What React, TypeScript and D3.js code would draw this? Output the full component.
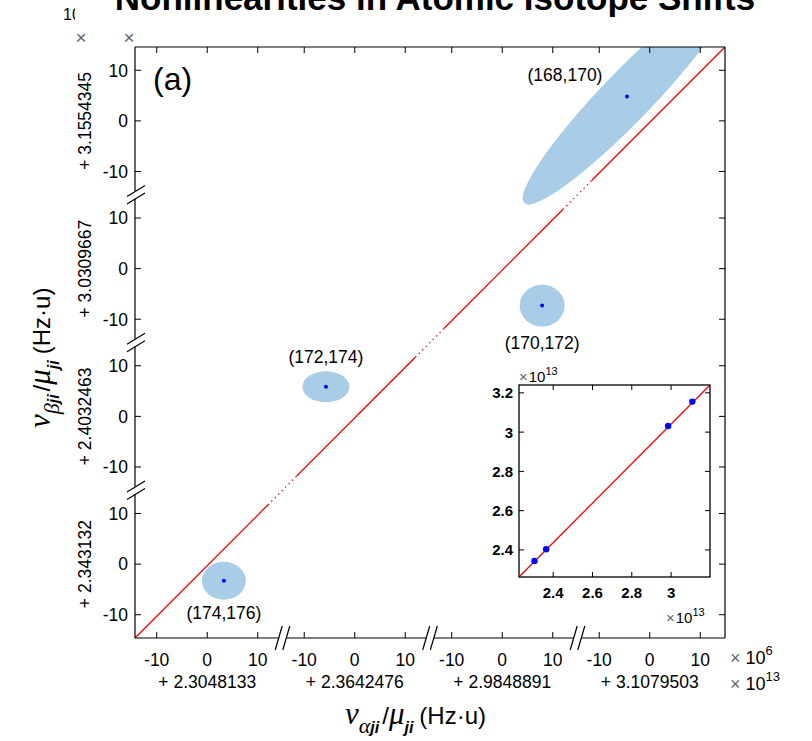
import * as d3 from "d3";

// axis offsets (x 10^13) for the four broken segments, bottom->top / left->right
const xOffsets = ["+ 2.3048133", "+ 2.3642476", "+ 2.9848891", "+ 3.1079503"];
const yOffsets = ["+ 2.343132", "+ 2.4032463", "+ 3.0309667", "+ 3.1554345"];
const localTicks = [-10, 0, 10];

// isotope pairs, local coordinates in units of 10^6 Hz·u
const pairLabels = ["(174,176)", "(172,174)", "(170,172)", "(168,170)"];
const pointX = [3.3, -5.7, 7.9, -4.5];
const pointY = [-3.3, 5.85, -7.3, 4.8];
const semiX = [4.35, 4.65, 4.45, 29.3];
const semiY = [3.75, 3.05, 4.15, 4.95];
const tilt = [0, 0, 0, -46];

// fitted line in local units: s = t + fitOffset, solid part inside each segment
const fitOffset = -0.3;
const solidFrom = [-14.3, -11.5, -11.5, -11.5];
const solidTo = [12, 12, 12, 14.9];

// inset (x 10^13)
const insetX = [2.3048133, 2.3642476, 2.9848891, 3.1079503];
const insetY = [2.343132, 2.4032463, 3.0309667, 3.1554345];
const insetXTicks = [2.4, 2.6, 2.8, 3];
const insetYTicks = [2.4, 2.6, 2.8, 3, 3.2];
const fitX = [2.226, 3.198];
const fitY = [2.262, 3.24];

const L = 135, R = 725, T = 47, B = 638;
const Px = (R - L) / 4;
const Py = (B - T) / 4;
const sans = "Liberation Sans, Arial, sans-serif";
const serif = "Liberation Serif, Times New Roman, serif";

const xPanel = (i: number) =>
  d3.scaleLinear().domain([-14.3, 14.9]).range([L + i * Px, L + (i + 1) * Px]);
const yPanel = (i: number) =>
  d3.scaleLinear().domain([-14.6, 14.6]).range([B - i * Py, B - (i + 1) * Py]);

const insL = 519, insR = 710, insT = 385, insB = 577;
const ix = d3.scaleLinear().domain([2.226, 3.198]).range([insL, insR]);
const iy = d3.scaleLinear().domain([2.262, 3.24]).range([insB, insT]);

const labelShift = [
  [0, 38],
  [0, -24],
  [0, 43],
  [-62, -16],
];

export default function App() {
  const panels = [0, 1, 2, 3];
  const line = d3.line<[number, number]>();

  const solidSegs = panels.map((i) =>
    line([
      [xPanel(i)(solidFrom[i]), yPanel(i)(solidFrom[i] + fitOffset)],
      [xPanel(i)(solidTo[i]), yPanel(i)(solidTo[i] + fitOffset)],
    ])
  );
  const dottedSegs = [0, 1, 2].map((i) =>
    line([
      [xPanel(i)(solidTo[i]), yPanel(i)(solidTo[i] + fitOffset)],
      [xPanel(i + 1)(solidFrom[i + 1]), yPanel(i + 1)(solidFrom[i + 1] + fitOffset)],
    ])
  );

  const xBreaks = [1, 2, 3].map((i) => L + i * Px);
  const yBreaks = [1, 2, 3].map((i) => B - i * Py);
  const gap = 3.8;
  const bottomStops = [L, ...xBreaks.flatMap((b) => [b - gap, b + gap]), R];
  const leftStops = [B, ...yBreaks.flatMap((b) => [b + gap, b - gap]), T];

  return (
    <svg width={812} height={741} style={{ display: "block", position: "absolute", left: 0, top: 0 }}>
      <defs>
        <clipPath id="plotClip">
          <rect x={L} y={T} width={R - L} height={B - T} />
        </clipPath>
      </defs>
      <rect width={812} height={741} fill="white" />

      {/* partially hidden exponent behind title */}
      <text x={63} y={20} fontFamily={sans} fontSize={16}>10</text>
      <rect x={75} y={0} width={737} height={24} fill="white" />
      <text x={435} y={10} textAnchor="middle" fontFamily={sans} fontWeight="bold" fontSize={35}>
        Nonlinearities in Atomic Isotope Shifts
      </text>
      <text x={81} y={44} textAnchor="middle" fontFamily={sans} fontSize={19} fill="#666">×</text>
      <text x={129} y={44} textAnchor="middle" fontFamily={sans} fontSize={19} fill="#666">×</text>

      {/* ellipses */}
      <g clipPath="url(#plotClip)">
        {panels.map((i) => {
          const cx = xPanel(i)(pointX[i]);
          const cy = yPanel(i)(pointY[i]);
          const rx = xPanel(i)(semiX[i]) - xPanel(i)(0);
          const ry = yPanel(i)(0) - yPanel(i)(semiY[i]);
          return (
            <ellipse key={i} cx={cx} cy={cy} rx={rx} ry={ry} fill="#a9cde7"
              transform={`rotate(${tilt[i]},${cx},${cy})`} />
          );
        })}
      </g>

      {/* fit line */}
      {solidSegs.map((d, i) => (
        <path key={"s" + i} d={d || ""} stroke="#ff0000" strokeWidth={1.3} fill="none" />
      ))}
      {dottedSegs.map((d, i) => (
        <path key={"d" + i} d={d || ""} stroke="#ff0000" strokeWidth={1.3} fill="none" strokeDasharray="1.3 3.6" />
      ))}

      {/* centre points and labels */}
      {panels.map((i) => {
        const cx = xPanel(i)(pointX[i]);
        const cy = yPanel(i)(pointY[i]);
        return (
          <g key={"p" + i}>
            <circle cx={cx} cy={cy} r={2} fill="#0000ff" />
            <text x={cx + labelShift[i][0]} y={cy + labelShift[i][1]} textAnchor="middle"
              fontFamily={sans} fontSize={17.5}>{pairLabels[i]}</text>
          </g>
        );
      })}

      <text x={153} y={90} fontFamily={sans} fontSize={32}>(a)</text>

      {/* frame */}
      <line x1={L} y1={T} x2={R} y2={T} stroke="black" strokeWidth={1.2} />
      <line x1={R} y1={T} x2={R} y2={B} stroke="black" strokeWidth={1.2} />
      {d3.range(0, bottomStops.length, 2).map((k) => (
        <line key={"bx" + k} x1={bottomStops[k]} y1={B} x2={bottomStops[k + 1]} y2={B} stroke="black" strokeWidth={1.2} />
      ))}
      {d3.range(0, leftStops.length, 2).map((k) => (
        <line key={"ly" + k} x1={L} y1={leftStops[k]} x2={L} y2={leftStops[k + 1]} stroke="black" strokeWidth={1.2} />
      ))}
      {xBreaks.map((b, k) => (
        <g key={"xb" + k} stroke="black" strokeWidth={1.2}>
          <line x1={b - gap - 3.5} y1={B + 12} x2={b - gap + 3.5} y2={B - 12} />
          <line x1={b + gap - 3.5} y1={B + 12} x2={b + gap + 3.5} y2={B - 12} />
        </g>
      ))}
      {yBreaks.map((b, k) => (
        <g key={"yb" + k} stroke="black" strokeWidth={1.2}>
          <line x1={L - 8} y1={b + gap + 5.5} x2={L + 10} y2={b + gap - 5.5} />
          <line x1={L - 8} y1={b - gap + 5.5} x2={L + 10} y2={b - gap - 5.5} />
        </g>
      ))}

      {/* ticks and labels */}
      {panels.map((i) => (
        <g key={"ax" + i} fontFamily={sans} fontSize={17.5}>
          {localTicks.map((t) => {
            const x = xPanel(i)(t);
            const y = yPanel(i)(t);
            return (
              <g key={t}>
                <line x1={x} y1={B} x2={x} y2={B - 6} stroke="black" />
                <line x1={x} y1={T} x2={x} y2={T + 6} stroke="black" />
                <text x={x} y={666} textAnchor="middle">{t}</text>
                <line x1={L} y1={y} x2={L + 6} y2={y} stroke="black" />
                <line x1={R} y1={y} x2={R - 6} y2={y} stroke="black" />
                <text x={128} y={y} dy="0.36em" textAnchor="end">{t}</text>
              </g>
            );
          })}
          <text x={xPanel(i)(0)} y={688} textAnchor="middle">{xOffsets[i]}</text>
          <text transform={`translate(91,${yPanel(i)(0)}) rotate(-90)`} textAnchor="middle">{yOffsets[i]}</text>
        </g>
      ))}

      {/* x exponents */}
      <text x={730} y={664} fontFamily={sans} fontSize={18}>
        <tspan fill="#666">×</tspan>
        <tspan dx={5}>10</tspan>
        <tspan dy={-9} fontSize={13}>6</tspan>
      </text>
      <text x={730} y={690} fontFamily={sans} fontSize={18}>
        <tspan fill="#666">×</tspan>
        <tspan dx={5}>10</tspan>
        <tspan dy={-9} fontSize={13}>13</tspan>
      </text>

      {/* axis titles */}
      <text x={345} y={724} fontFamily={sans}>
        <tspan fontFamily={serif} fontStyle="italic" fontSize={31}>ν</tspan>
        <tspan fontFamily={serif} fontStyle="italic" fontSize={22} dy={9}>α</tspan>
        <tspan fontStyle="italic" fontWeight="bold" fontSize={16}>ji</tspan>
        <tspan fontSize={24} dy={-9} dx={3}>/</tspan>
        <tspan fontFamily={serif} fontStyle="italic" fontSize={31}>μ</tspan>
        <tspan fontStyle="italic" fontWeight="bold" fontSize={16} dy={9}>ji</tspan>
        <tspan fontSize={24} dy={-9} dx={6}>(Hz·u)</tspan>
      </text>
      <text transform="translate(50,428) rotate(-90)" fontFamily={sans}>
        <tspan fontFamily={serif} fontStyle="italic" fontSize={31}>ν</tspan>
        <tspan fontFamily={serif} fontStyle="italic" fontSize={22} dy={9}>β</tspan>
        <tspan fontStyle="italic" fontWeight="bold" fontSize={16}>ji</tspan>
        <tspan fontSize={24} dy={-9} dx={3}>/</tspan>
        <tspan fontFamily={serif} fontStyle="italic" fontSize={31}>μ</tspan>
        <tspan fontStyle="italic" fontWeight="bold" fontSize={16} dy={9}>ji</tspan>
        <tspan fontSize={24} dy={-9} dx={6}>(Hz·u)</tspan>
      </text>

      {/* inset */}
      <rect x={insL} y={insT} width={insR - insL} height={insB - insT} fill="white" />
      <path d={line([[ix(fitX[0]), iy(fitY[0])], [ix(fitX[1]), iy(fitY[1])]]) || ""} stroke="#ff0000" strokeWidth={1.3} />
      {insetX.map((v, k) => (
        <circle key={k} cx={ix(v)} cy={iy(insetY[k])} r={3.2} fill="#0000ff" />
      ))}
      <rect x={insL} y={insT} width={insR - insL} height={insB - insT} fill="none" stroke="black" strokeWidth={1.3} />
      <g fontFamily={sans} fontSize={15} fontWeight="bold">
        {insetXTicks.map((t) => (
          <g key={"ix" + t}>
            <line x1={ix(t)} y1={insB} x2={ix(t)} y2={insB - 5} stroke="black" />
            <line x1={ix(t)} y1={insT} x2={ix(t)} y2={insT + 5} stroke="black" />
            <text x={ix(t)} y={598} textAnchor="middle">{d3.format("~g")(t)}</text>
          </g>
        ))}
        {insetYTicks.map((t) => (
          <g key={"iy" + t}>
            <line x1={insL} y1={iy(t)} x2={insL + 5} y2={iy(t)} stroke="black" />
            <line x1={insR} y1={iy(t)} x2={insR - 5} y2={iy(t)} stroke="black" />
            <text x={513} y={iy(t)} dy="0.36em" textAnchor="end">{d3.format("~g")(t)}</text>
          </g>
        ))}
      </g>
      <text x={519} y={382} fontFamily={sans} fontSize={15}>
        <tspan fill="#666">×</tspan>
        <tspan dx={1}>10</tspan>
        <tspan dy={-7} fontSize={11}>13</tspan>
      </text>
      <text x={666} y={623} fontFamily={sans} fontSize={15}>
        <tspan fill="#666">×</tspan>
        <tspan dx={1}>10</tspan>
        <tspan dy={-7} fontSize={11}>13</tspan>
      </text>
    </svg>
  );
}
